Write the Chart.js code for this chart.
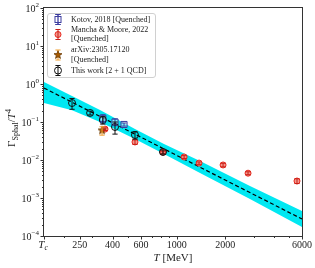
<!DOCTYPE html>
<html>
<head>
<meta charset="utf-8">
<script src="https://cdn.jsdelivr.net/npm/chart.js@4.4.0/dist/chart.umd.min.js"></script>
<style>
  html, body { margin: 0; padding: 0; background: #fff; }
  #wrap { width: 315px; height: 268px; }
</style>
</head>
<body>
<div id="wrap"><canvas id="chart" width="315" height="268"></canvas></div>
<script>
// values (T in MeV, rate / T^4)
const fitT = [150, 6000];
const fitY = [0.785, 0.00028];

const bandT  = [150, 224, 334, 551, 834, 1396, 2851, 6000];
const bandHi = [1.13, 0.483, 0.207, 0.0655, 0.0264, 0.0094, 0.00207, 0.000455];
const bandLo = [0.316, 0.205, 0.1, 0.0357, 0.0144, 0.00455, 0.00094, 0.000173];

const kotovT   = [348, 414, 471];
const kotovY   = [0.125, 0.1, 0.086];
const kotovErr = [0.03, 0.02, 0.008];

const manchaT   = [359, 551, 822, 1112, 1377, 1941, 2774, 5585];
const manchaY   = [0.065, 0.0298, 0.016, 0.012, 0.0083, 0.0074, 0.0045, 0.0028];
const manchaErr = [0.005, 0.004, 0.001, 0.001, 0.0006, 0.0008, 0.0004, 0.0004];

const arxivT   = [344];
const arxivY   = [0.06];
const arxivErr = [0.015];

const workT   = [224, 290, 348, 414, 551, 822];
const workY   = [0.316, 0.173, 0.113, 0.074, 0.0455, 0.0163];
const workErr = [0.1, 0.02, 0.025, 0.026, 0.01, 0.002];

const xTicks = [150, 250, 400, 600, 1000, 2000, 6000];
const xTickLabels = ["", "250", "400", "600", "1000", "2000", "6000"];
const xMinor = [200, 300, 500, 700, 800, 900, 3000, 4000, 5000];
const yTicks = [1e2, 1e1, 1e0, 1e-1, 1e-2, 1e-3, 1e-4];
const yTickExp = ["2", "1", "0", "\u22121", "\u22122", "\u22123", "\u22124"];
const yMinorMult = [2, 3, 4, 5, 6, 7, 8, 9];

const legendLines = [
  ["Kotov, 2018 [Quenched]"],
  ["Mancha & Moore, 2022", "[Quenched]"],
  ["arXiv:2305.17120", "[Quenched]"],
  ["This work [2 + 1 QCD]"]
];

/* ---------- styles ---------- */
const SERIF = '"Liberation Serif", "DejaVu Serif", serif';
const CYAN = "#00e8f2";
const KOTOV = "#3c3ca0";
const RED = "#e8281e";
const RED_FILL = "#f39a90";
const ORANGE = "#f2a030";
const AXIS = "#333333";

function pts(xs, ys) {
  return xs.map((x, i) => ({ x: x, y: ys[i] }));
}

function starPath(g, cx, cy, r) {
  g.beginPath();
  for (let i = 0; i < 10; i++) {
    const rr = i % 2 ? r * 0.42 : r;
    const a = -Math.PI / 2 + i * Math.PI / 5;
    const px = cx + rr * Math.cos(a);
    const py = cy + rr * Math.sin(a);
    if (i === 0) g.moveTo(px, py); else g.lineTo(px, py);
  }
  g.closePath();
}

function starImage(r) {
  const c = document.createElement("canvas");
  const s = Math.ceil(r * 2 + 3);
  c.width = s; c.height = s;
  const g = c.getContext("2d");
  starPath(g, s / 2, s / 2, r);
  g.fillStyle = "#a85a00";
  g.fill();
  g.strokeStyle = "#6a3800";
  g.lineWidth = 0.8;
  g.stroke();
  return c;
}
const starImg = starImage(4.2);

// series that get error bars
const errorSeries = [
  { t: kotovT, y: kotovY, e: kotovErr, color: KOTOV },
  { t: manchaT, y: manchaY, e: manchaErr, color: "#c81e16" },
  { t: arxivT, y: arxivY, e: arxivErr, color: ORANGE },
  { t: workT, y: workY, e: workErr, color: "#111111" }
];

function errBar(ctx, x, y1, y2, color, cap) {
  ctx.strokeStyle = color;
  ctx.lineWidth = 1;
  ctx.beginPath();
  ctx.moveTo(x, y1); ctx.lineTo(x, y2);
  ctx.moveTo(x - cap, y1); ctx.lineTo(x + cap, y1);
  ctx.moveTo(x - cap, y2); ctx.lineTo(x + cap, y2);
  ctx.stroke();
}

/* ---------- error bars ---------- */
const errorBarPlugin = {
  id: "errorBars",
  afterDatasetsDraw(chart) {
    const { ctx, chartArea: a, scales: { x, y } } = chart;
    ctx.save();
    ctx.beginPath();
    ctx.rect(a.left, a.top, a.right - a.left, a.bottom - a.top);
    ctx.clip();
    errorSeries.forEach(s => {
      s.t.forEach((t, i) => {
        const px = x.getPixelForValue(t);
        const hi = y.getPixelForValue(s.y[i] + s.e[i]);
        const lo = y.getPixelForValue(Math.max(s.y[i] - s.e[i], 1e-6));
        errBar(ctx, px, hi, lo, s.color, 2.6);
      });
    });
    ctx.restore();
  }
};

/* ---------- frame, ticks, labels, legend ---------- */
function drawParts(ctx, parts, x, y, align) {
  let w = 0;
  parts.forEach(p => { ctx.font = p.f; w += ctx.measureText(p.t).width; });
  let cx = align === "center" ? x - w / 2 : x;
  parts.forEach(p => {
    ctx.font = p.f;
    ctx.fillText(p.t, cx, y + (p.dy || 0));
    cx += ctx.measureText(p.t).width;
  });
}

function legendMarker(ctx, kind, x, y) {
  ctx.save();
  if (kind === 0) {
    errBar(ctx, x, y - 5, y + 5, KOTOV, 2.6);
    ctx.strokeStyle = KOTOV; ctx.lineWidth = 1;
    ctx.fillStyle = "rgba(255,255,255,0.5)";
    ctx.fillRect(x - 3, y - 3, 6, 6);
    ctx.strokeRect(x - 3, y - 3, 6, 6);
    errBar(ctx, x, y - 5, y + 5, KOTOV, 2.6);
  } else if (kind === 1) {
    ctx.beginPath(); ctx.arc(x, y, 3, 0, Math.PI * 2);
    ctx.fillStyle = RED_FILL; ctx.fill();
    ctx.strokeStyle = RED; ctx.lineWidth = 1; ctx.stroke();
    errBar(ctx, x, y - 5, y + 5, "#c81e16", 2.6);
  } else if (kind === 2) {
    errBar(ctx, x, y - 5, y + 5, ORANGE, 2.6);
    ctx.drawImage(starImg, x - starImg.width / 2, y - starImg.height / 2);
  } else {
    ctx.beginPath(); ctx.arc(x, y, 3.5, 0, Math.PI * 2);
    ctx.strokeStyle = "#111"; ctx.lineWidth = 1; ctx.stroke();
    errBar(ctx, x, y - 5, y + 5, "#111", 2.6);
  }
  ctx.restore();
}

const framePlugin = {
  id: "frame",
  afterDraw(chart) {
    const { ctx, chartArea: a, scales: { x, y } } = chart;
    ctx.save();

    // axes box
    ctx.strokeStyle = AXIS;
    ctx.lineWidth = 1;
    ctx.strokeRect(a.left - 0.5, a.top - 0.5, a.right - a.left + 1, a.bottom - a.top + 1);

    // ticks
    ctx.beginPath();
    xTicks.forEach(v => {
      const px = Math.round(x.getPixelForValue(v)) + 0.5;
      ctx.moveTo(px, a.bottom); ctx.lineTo(px, a.bottom + 3.5);
    });
    xMinor.forEach(v => {
      const px = Math.round(x.getPixelForValue(v)) + 0.5;
      ctx.moveTo(px, a.bottom); ctx.lineTo(px, a.bottom + 2);
    });
    yTicks.forEach(v => {
      const py = Math.round(y.getPixelForValue(v)) + 0.5;
      ctx.moveTo(a.left, py); ctx.lineTo(a.left - 3.5, py);
      if (v < 1e2) {
        yMinorMult.forEach(m => {
          const pm = Math.round(y.getPixelForValue(v * m)) + 0.5;
          ctx.moveTo(a.left, pm); ctx.lineTo(a.left - 2, pm);
        });
      }
    });
    ctx.stroke();

    // tick labels
    ctx.fillStyle = "#222";
    ctx.textBaseline = "middle";
    ctx.textAlign = "center";
    ctx.font = "10px " + SERIF;
    xTicks.forEach((v, i) => {
      if (xTickLabels[i]) ctx.fillText(xTickLabels[i], x.getPixelForValue(v), a.bottom + 9.5);
    });
    ctx.textAlign = "left";
    drawParts(ctx, [
      { t: "T", f: "italic 11px " + SERIF },
      { t: "c", f: "italic 7.5px " + SERIF, dy: 2.5 }
    ], x.getPixelForValue(xTicks[0]) - 1, a.bottom + 9.5, "center");

    yTicks.forEach((v, i) => {
      const py = y.getPixelForValue(v);
      ctx.font = "7px " + SERIF;
      const ew = ctx.measureText(yTickExp[i]).width;
      ctx.textAlign = "right";
      ctx.fillText(yTickExp[i], a.left - 5, py - 3);
      ctx.font = "10px " + SERIF;
      ctx.fillText("10", a.left - 5 - ew, py + 1.5);
    });

    // axis titles
    ctx.textAlign = "left";
    ctx.textBaseline = "alphabetic";
    drawParts(ctx, [
      { t: "T", f: "italic 11px " + SERIF },
      { t: " [MeV]", f: "11px " + SERIF }
    ], (a.left + a.right) / 2, 261, "center");

    ctx.save();
    ctx.translate(15, (a.top + a.bottom) / 2 + 6);
    ctx.rotate(-Math.PI / 2);
    drawParts(ctx, [
      { t: "\u0393", f: "11px " + SERIF },
      { t: "Sphal", f: "8px " + SERIF, dy: 2.5 },
      { t: "/", f: "11px " + SERIF },
      { t: "T", f: "italic 11px " + SERIF },
      { t: "4", f: "8px " + SERIF, dy: -4.5 }
    ], 0, 0, "center");
    ctx.restore();

    // legend
    const lx = 47.5, ly = 13.5, lw = 108, lh = 64;
    ctx.beginPath();
    ctx.roundRect(lx, ly, lw, lh, 2.5);
    ctx.fillStyle = "rgba(255,255,255,0.85)";
    ctx.fill();
    ctx.strokeStyle = "#d0d0d0";
    ctx.stroke();

    const rowY = [19.5, 34.5, 55, 70.5];
    ctx.textBaseline = "middle";
    ctx.fillStyle = "#222";
    ctx.font = "8px " + SERIF;
    legendLines.forEach((lines, i) => {
      legendMarker(ctx, i, 58, rowY[i]);
      const y0 = rowY[i] - (lines.length - 1) * 4.8;
      lines.forEach((s, k) => ctx.fillText(s, 71, y0 + k * 9.6));
    });

    ctx.restore();
  }
};

/* ---------- chart ---------- */
new Chart(document.getElementById("chart"), {
  type: "line",
  data: {
    datasets: [
      {
        data: pts(bandT, bandHi), fill: "+1", backgroundColor: CYAN,
        borderColor: "rgba(0,0,0,0)", borderWidth: 0, pointRadius: 0, order: 10
      },
      {
        data: pts(bandT, bandLo), fill: false, backgroundColor: CYAN,
        borderColor: "rgba(0,0,0,0)", borderWidth: 0, pointRadius: 0, order: 10
      },
      {
        data: pts(fitT, fitY), fill: false, borderColor: "#000", borderWidth: 1.2,
        borderDash: [4, 2.5], pointRadius: 0, order: 9
      },
      {
        data: pts(kotovT, kotovY), showLine: false, pointStyle: "rect", pointRadius: 4.3,
        borderColor: KOTOV, backgroundColor: "rgba(255,255,255,0.5)", borderWidth: 1, order: 4
      },
      {
        data: pts(manchaT, manchaY), showLine: false, pointStyle: "circle", pointRadius: 3,
        borderColor: RED, backgroundColor: RED_FILL, borderWidth: 1, order: 3
      },
      {
        data: pts(arxivT, arxivY), showLine: false, pointStyle: starImg, pointRadius: 4.2, order: 2
      },
      {
        data: pts(workT, workY), showLine: false, pointStyle: "circle", pointRadius: 3.5,
        borderColor: "#111", backgroundColor: "rgba(255,255,255,0)", borderWidth: 1, order: 1
      }
    ]
  },
  options: {
    responsive: false,
    animation: false,
    devicePixelRatio: 1,
    layout: { padding: { left: 0, right: 13, top: 8, bottom: 0 } },
    plugins: { legend: { display: false }, tooltip: { enabled: false } },
    scales: {
      x: {
        type: "logarithmic", min: 150, max: 6000,
        ticks: { display: false }, grid: { display: false }, border: { display: false },
        afterFit: s => { s.height = 32; }
      },
      y: {
        type: "logarithmic", min: 1e-4, max: 1e2,
        ticks: { display: false }, grid: { display: false }, border: { display: false },
        afterFit: s => { s.width = 44; }
      }
    }
  },
  plugins: [errorBarPlugin, framePlugin]
});
</script>
</body>
</html>
